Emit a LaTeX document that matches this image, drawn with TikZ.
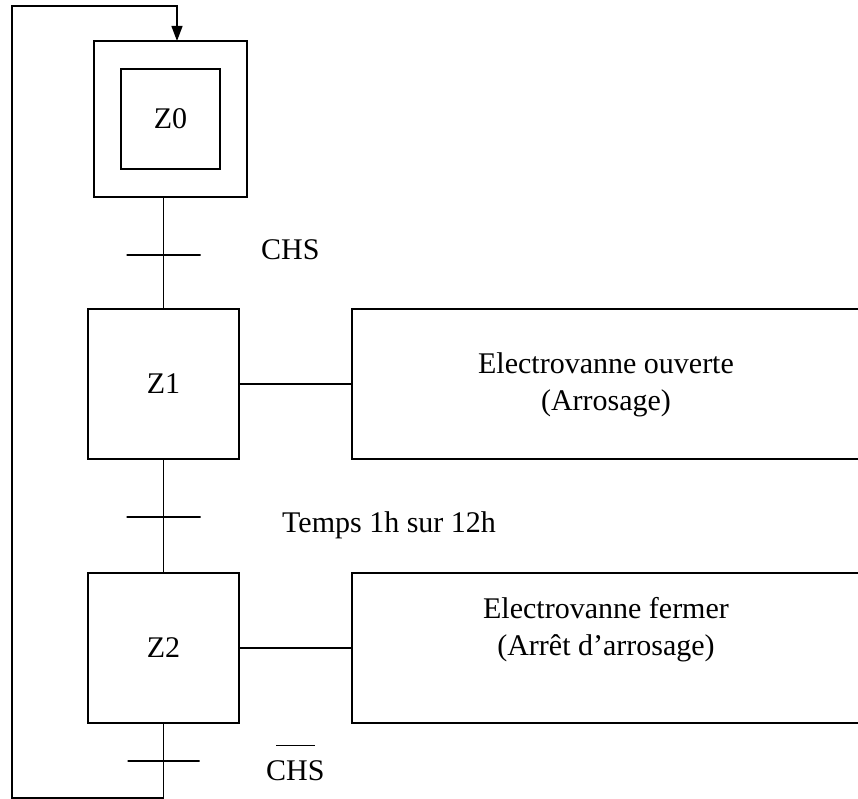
\documentclass[tikz,border=0pt]{standalone}
\usepackage{fontspec}
\setmainfont{Liberation Serif}
\usetikzlibrary{arrows.meta}
\begin{document}
\begin{tikzpicture}[x=1pt,y=-1pt,
  etape/.style={draw,line width=1.3pt,inner sep=0pt,font=\fontsize{30}{37}\selectfont},
  action/.style={draw,line width=1.3pt,minimum width=508pt,minimum height=150pt},
  barre/.style={draw,line width=1.3pt,inner sep=0pt,minimum height=0pt,minimum width=74pt},
  lbl/.style={inner sep=0pt,anchor=base west,font=\fontsize{30}{37}\selectfont},
  lien/.style={line width=1.3pt}]
\useasboundingbox (0,0) rectangle (858,799);
\node[etape,minimum width=153pt,minimum height=156pt] (z0) at (170.5,119) {};
\node[etape,minimum width=99pt,minimum height=100pt] (z0i) at (z0) {Z0};
\node[etape,minimum width=151pt,minimum height=150pt] (z1) at (163.5,384) {Z1};
\node[etape,minimum width=151pt,minimum height=150pt] (z2) at (163.5,648) {Z2};
\node[action] (a1) at (606,384) {};
\node[action] (a2) at (606,648) {};
\node[lbl,anchor=north,align=center] (a1t) at (606,352.5) {Electrovanne ouverte\\(Arrosage)};
\node[lbl,anchor=north,align=center] (a2t) at (606,597.5) {Electrovanne fermer\\(Arrêt d’arrosage)};
\node[barre] (t1) at (163.5,255) {};
\node[barre] (t2) at (163.5,517) {};
\node[barre,minimum width=72pt] (t3) at (163.5,761) {};
\node[lbl] (c1) at (261,260) {CHS};
\node[lbl] (c2) at (282,532) {Temps 1h sur 12h};
\node[lbl] (c3) at (266,780) {\rlap{\hspace{10pt}\rule[34pt]{39pt}{1.2pt}}CHS};
\coordinate (lb) at (12,798);
\coordinate (lt) at (12,6);
\coordinate (z0in) at (177,41);
\draw[lien] (z0.south -| z1.north) -- (t1.center) -- (z1.north);
\draw[lien] (z1.south) -- (t2.center) -- (z2.north);
\draw[lien] (z1.east) -- (a1.west);
\draw[lien] (z2.east) -- (a2.west);
\draw[lien,-{Triangle[length=15pt,width=11pt]}] (z2.south) -- (t3.center) -- (z2.south |- lb) -- (lb) -- (lt) -| (z0in);
\end{tikzpicture}
\end{document}
